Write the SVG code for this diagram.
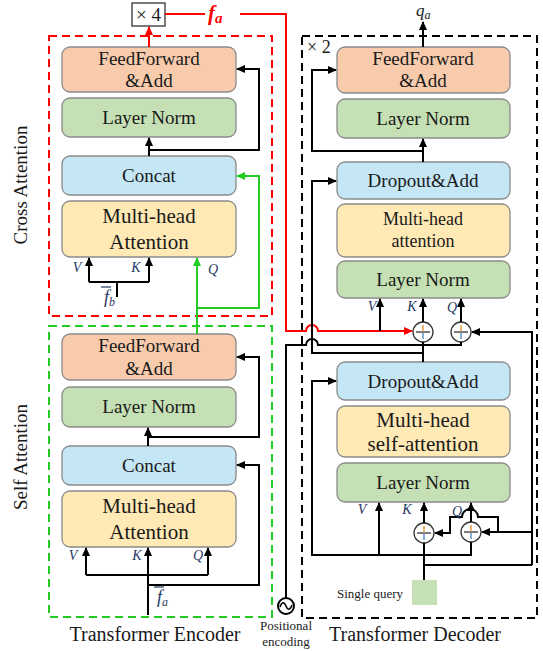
<svg xmlns="http://www.w3.org/2000/svg" width="543" height="651" viewBox="0 0 543 651" font-family="'Liberation Serif', serif">
<defs>
<marker id="ab" markerUnits="userSpaceOnUse" markerWidth="9" markerHeight="8" refX="8" refY="4" orient="auto"><path d="M0,0 L9,4 L0,8 z" fill="#000"/></marker>
<marker id="ar" markerUnits="userSpaceOnUse" markerWidth="9" markerHeight="8" refX="8" refY="4" orient="auto"><path d="M0,0 L9,4 L0,8 z" fill="#ff0000"/></marker>
<marker id="ag" markerUnits="userSpaceOnUse" markerWidth="9" markerHeight="8" refX="8" refY="4" orient="auto"><path d="M0,0 L9,4 L0,8 z" fill="#22cc22"/></marker>
</defs>
<style>
text{font-family:'Liberation Serif',serif}
.box{stroke:#8a8a8a;stroke-width:1.3}
.ff{fill:#F8CBAD}.ln{fill:#C5E0B4}.cc{fill:#C5E6F5}.mh{fill:#FFE9B5}
.t{font-size:19px;fill:#1a1a1a;text-anchor:middle}
.tb{font-size:21px;fill:#1a1a1a;text-anchor:middle}
.lab{font-size:14px;font-style:italic;fill:#1F3864;text-anchor:middle}
.w{fill:none;stroke:#000;stroke-width:2}
.r{fill:none;stroke:#ff0000;stroke-width:2}
.g{fill:none;stroke:#22cc22;stroke-width:2}
.dash{fill:none;stroke-width:2;stroke-dasharray:8,5}
.pc{fill:#fff;stroke:#333;stroke-width:1.3}
</style>

<!-- containers -->
<g id="cross-attention-frame"><rect x="49" y="36" width="223" height="280" class="dash" stroke="#ff0000"/></g>
<g id="self-attention-frame"><rect x="49" y="326" width="223" height="291" class="dash" stroke="#22cc22"/></g>
<g id="decoder-frame"><rect x="302" y="36" width="235" height="582" class="dash" stroke="#000"/></g>

<!-- encoder cross attention nodes -->
<g id="enc-ff1"><rect class="box ff" x="62" y="47" width="174" height="45" rx="8"/><text class="t" x="149" y="65">FeedForward</text><text class="t" x="149" y="87">&amp;Add</text></g>
<g id="enc-ln1"><rect class="box ln" x="62" y="98" width="174" height="39" rx="8"/><text class="t" x="149" y="124">Layer Norm</text></g>
<g id="enc-cc1"><rect class="box cc" x="62" y="156" width="174" height="39" rx="8"/><text class="t" x="149" y="182">Concat</text></g>
<g id="enc-mh1"><rect class="box mh" x="62" y="201" width="174" height="56" rx="8"/><text class="tb" x="149" y="223">Multi-head</text><text class="tb" x="149" y="249">Attention</text></g>

<!-- encoder self attention nodes -->
<g id="enc-ff2"><rect class="box ff" x="62" y="334" width="174" height="46" rx="8"/><text class="t" x="149" y="352">FeedForward</text><text class="t" x="149" y="375">&amp;Add</text></g>
<g id="enc-ln2"><rect class="box ln" x="62" y="387" width="174" height="40" rx="8"/><text class="t" x="149" y="413">Layer Norm</text></g>
<g id="enc-cc2"><rect class="box cc" x="62" y="446" width="174" height="39" rx="8"/><text class="t" x="149" y="472">Concat</text></g>
<g id="enc-mh2"><rect class="box mh" x="62" y="491" width="174" height="56" rx="8"/><text class="tb" x="149" y="513">Multi-head</text><text class="tb" x="149" y="539">Attention</text></g>

<!-- decoder nodes -->
<g id="dec-ff"><rect class="box ff" x="337" y="47" width="173" height="46" rx="8"/><text class="t" x="423" y="65">FeedForward</text><text class="t" x="423" y="87">&amp;Add</text></g>
<g id="dec-ln1"><rect class="box ln" x="337" y="99" width="173" height="39" rx="8"/><text class="t" x="423" y="125">Layer Norm</text></g>
<g id="dec-da1"><rect class="box cc" x="337" y="162" width="173" height="37" rx="8"/><text class="t" x="423" y="187">Dropout&amp;Add</text></g>
<g id="dec-mh1"><rect class="box mh" x="337" y="204" width="173" height="53" rx="8"/><text class="t" x="423" y="225" style="font-size:18px">Multi-head</text><text class="t" x="423" y="247" style="font-size:18px">attention</text></g>
<g id="dec-ln2"><rect class="box ln" x="337" y="261" width="173" height="37" rx="8"/><text class="t" x="423" y="286">Layer Norm</text></g>
<g id="dec-da2"><rect class="box cc" x="337" y="362" width="173" height="38" rx="8"/><text class="t" x="423" y="388">Dropout&amp;Add</text></g>
<g id="dec-mh2"><rect class="box mh" x="337" y="406" width="173" height="51" rx="8"/><text class="tb" x="423" y="427">Multi-head</text><text class="tb" x="423" y="451">self-attention</text></g>
<g id="dec-ln3"><rect class="box ln" x="337" y="463" width="173" height="39" rx="8"/><text class="t" x="423" y="489">Layer Norm</text></g>
<g id="single-query"><rect x="412" y="580" width="25" height="25" fill="#C5E0B4"/><text x="370" y="598" style="font-size:13px;fill:#222;text-anchor:middle">Single query</text></g>

<g id="times4"><rect x="132" y="3" width="33" height="23" fill="#fff" stroke="#333" stroke-width="1.3"/><text class="t" x="148.5" y="21">× 4</text></g>

<g id="pos-enc"><circle cx="286" cy="606" r="8" fill="#fff" stroke="#000" stroke-width="2"/><path d="M280,607 q3,-8 6,-1 t6,-1" fill="none" stroke="#000" stroke-width="1.5"/></g>

<g id="adders">
<g id="addA"><circle class="pc" cx="423" cy="332" r="10"/><path d="M416,332 H430" stroke="#333" stroke-width="1.3"/><path d="M423,325 V332" stroke="#E0902A" stroke-width="1.3"/><path d="M423,332 V339" stroke="#4A7FC0" stroke-width="1.3"/></g>
<g id="addB"><circle class="pc" cx="461" cy="332" r="10"/><path d="M454,332 H468" stroke="#333" stroke-width="1.3"/><path d="M461,325 V332" stroke="#E0902A" stroke-width="1.3"/><path d="M461,332 V339" stroke="#4A7FC0" stroke-width="1.3"/></g>
<g id="add1"><circle class="pc" cx="424" cy="533" r="10"/><path d="M417,533 H431" stroke="#333" stroke-width="1.3"/><path d="M424,526 V533" stroke="#E0902A" stroke-width="1.3"/><path d="M424,533 V540" stroke="#4A7FC0" stroke-width="1.3"/></g>
<g id="add2"><circle class="pc" cx="471" cy="532" r="10"/><path d="M464,532 H478" stroke="#333" stroke-width="1.3"/><path d="M471,525 V532" stroke="#E0902A" stroke-width="1.3"/><path d="M471,532 V539" stroke="#4A7FC0" stroke-width="1.3"/></g>
</g>

<g id="connectors">
<!-- cross attention -->
<path class="r" d="M149,47 V27" marker-end="url(#ar)"/>
<path class="w" d="M149,156 V138" marker-end="url(#ab)"/>
<path class="w" d="M149,150 H259 V69 H237" marker-end="url(#ab)"/>
<path class="w" d="M89,282 V258" marker-end="url(#ab)"/>
<path class="w" d="M149,282 V258" marker-end="url(#ab)"/>
<path class="w" d="M89,282 H149 M117,282 V297"/>
<path class="g" d="M197,334 V258" marker-end="url(#ag)"/>
<path class="g" d="M197,308 H259 V176 H237" marker-end="url(#ag)"/>
<!-- self attention -->
<path class="w" d="M148,446 V428" marker-end="url(#ab)"/>
<path class="w" d="M148,437 H259 V357 H237" marker-end="url(#ab)"/>
<path class="w" d="M148,615 V548" marker-end="url(#ab)"/>
<path class="w" d="M86,575 V548" marker-end="url(#ab)"/>
<path class="w" d="M208,575 V548" marker-end="url(#ab)"/>
<path class="w" d="M86,575 H208"/>
<path class="w" d="M148,585 H259 V465 H237" marker-end="url(#ab)"/>
<!-- red f_a -->
<path class="r" d="M165,14 H205 M240,14 H286 V331 H306 A6,6 0 0 1 318,331 H412" marker-end="url(#ar)"/>
<!-- decoder upper -->
<path class="w" d="M423,47 V22" marker-end="url(#ab)"/>
<path class="w" d="M423,162 V139" marker-end="url(#ab)"/>
<path class="w" d="M423,151 H312 V70 H336" marker-end="url(#ab)"/>
<path class="w" d="M380,331 V299" marker-end="url(#ab)"/>
<path class="w" d="M423,322 V299" marker-end="url(#ab)"/>
<path class="w" d="M461,322 V299" marker-end="url(#ab)"/>
<path class="w" d="M423,342 V362 M423,353 H312 V181 H336" marker-end="url(#ab)"/>
<path class="w" d="M286,598 V345 H306 A6,6 0 0 1 318,345 H461 V342"/>
<path class="w" d="M532,565 V332 H472" marker-end="url(#ab)"/>
<!-- decoder lower -->
<path class="w" d="M532,532 H482" marker-end="url(#ab)"/>
<path class="w" d="M498,532 V517 H478 A8,8 0 0 0 462,517 H450 V533 H435" marker-end="url(#ab)"/>
<path class="w" d="M471,522 V503" marker-end="url(#ab)"/>
<path class="w" d="M424,523 V503" marker-end="url(#ab)"/>
<path class="w" d="M379,555 V503" marker-end="url(#ab)"/>
<path class="w" d="M471,542 V555 H312 V381 H336" marker-end="url(#ab)"/>
<path class="w" d="M424,580 V543 M424,565 H532"/>
</g>

<g id="labels">
<text class="lab" x="77" y="272">V</text><text class="lab" x="136" y="272">K</text><text class="lab" x="213" y="274">Q</text>
<text class="lab" x="73" y="560">V</text><text class="lab" x="137" y="560">K</text><text class="lab" x="198" y="560">Q</text>
<text class="lab" x="372" y="311">V</text><text class="lab" x="412" y="311">K</text><text class="lab" x="452" y="312">Q</text>
<text class="lab" x="362" y="514">V</text><text class="lab" x="407" y="514">K</text><text class="lab" x="457" y="516">Q</text>
<text x="104" y="303" style="font-size:18px;font-style:italic;fill:#1F3864">f<tspan font-size="12" dy="3">b</tspan></text>
<path d="M101,287 H111" stroke="#1F3864" stroke-width="1.2"/>
<text x="157" y="603" style="font-size:18px;font-style:italic;fill:#1F3864">f<tspan font-size="12" dy="3">a</tspan></text>
<path d="M154,587 H164" stroke="#1F3864" stroke-width="1.2"/>
<text x="208" y="20" style="font-size:21px;font-style:italic;font-weight:bold;fill:#ff0000">f<tspan font-size="15" dy="3">a</tspan></text>
<text x="416" y="16" style="font-size:17px;font-style:italic;fill:#1a1a1a">q<tspan font-size="12" dy="3">a</tspan></text>
<text x="307" y="53" style="font-size:18px;fill:#1a1a1a">× 2</text>
<text class="t" x="0" y="0" transform="translate(27,185) rotate(-90)">Cross Attention</text>
<text class="t" x="0" y="0" transform="translate(27,457) rotate(-90)">Self Attention</text>
<text class="t" x="155" y="641" style="font-size:20px">Transformer Encoder</text>
<text class="t" x="415" y="641" style="font-size:20px">Transformer Decoder</text>
<text x="286" y="630" style="font-size:13px;fill:#1a1a1a;text-anchor:middle">Positional</text>
<text x="286" y="646" style="font-size:13px;fill:#1a1a1a;text-anchor:middle">encoding</text>
</g>
</svg>
